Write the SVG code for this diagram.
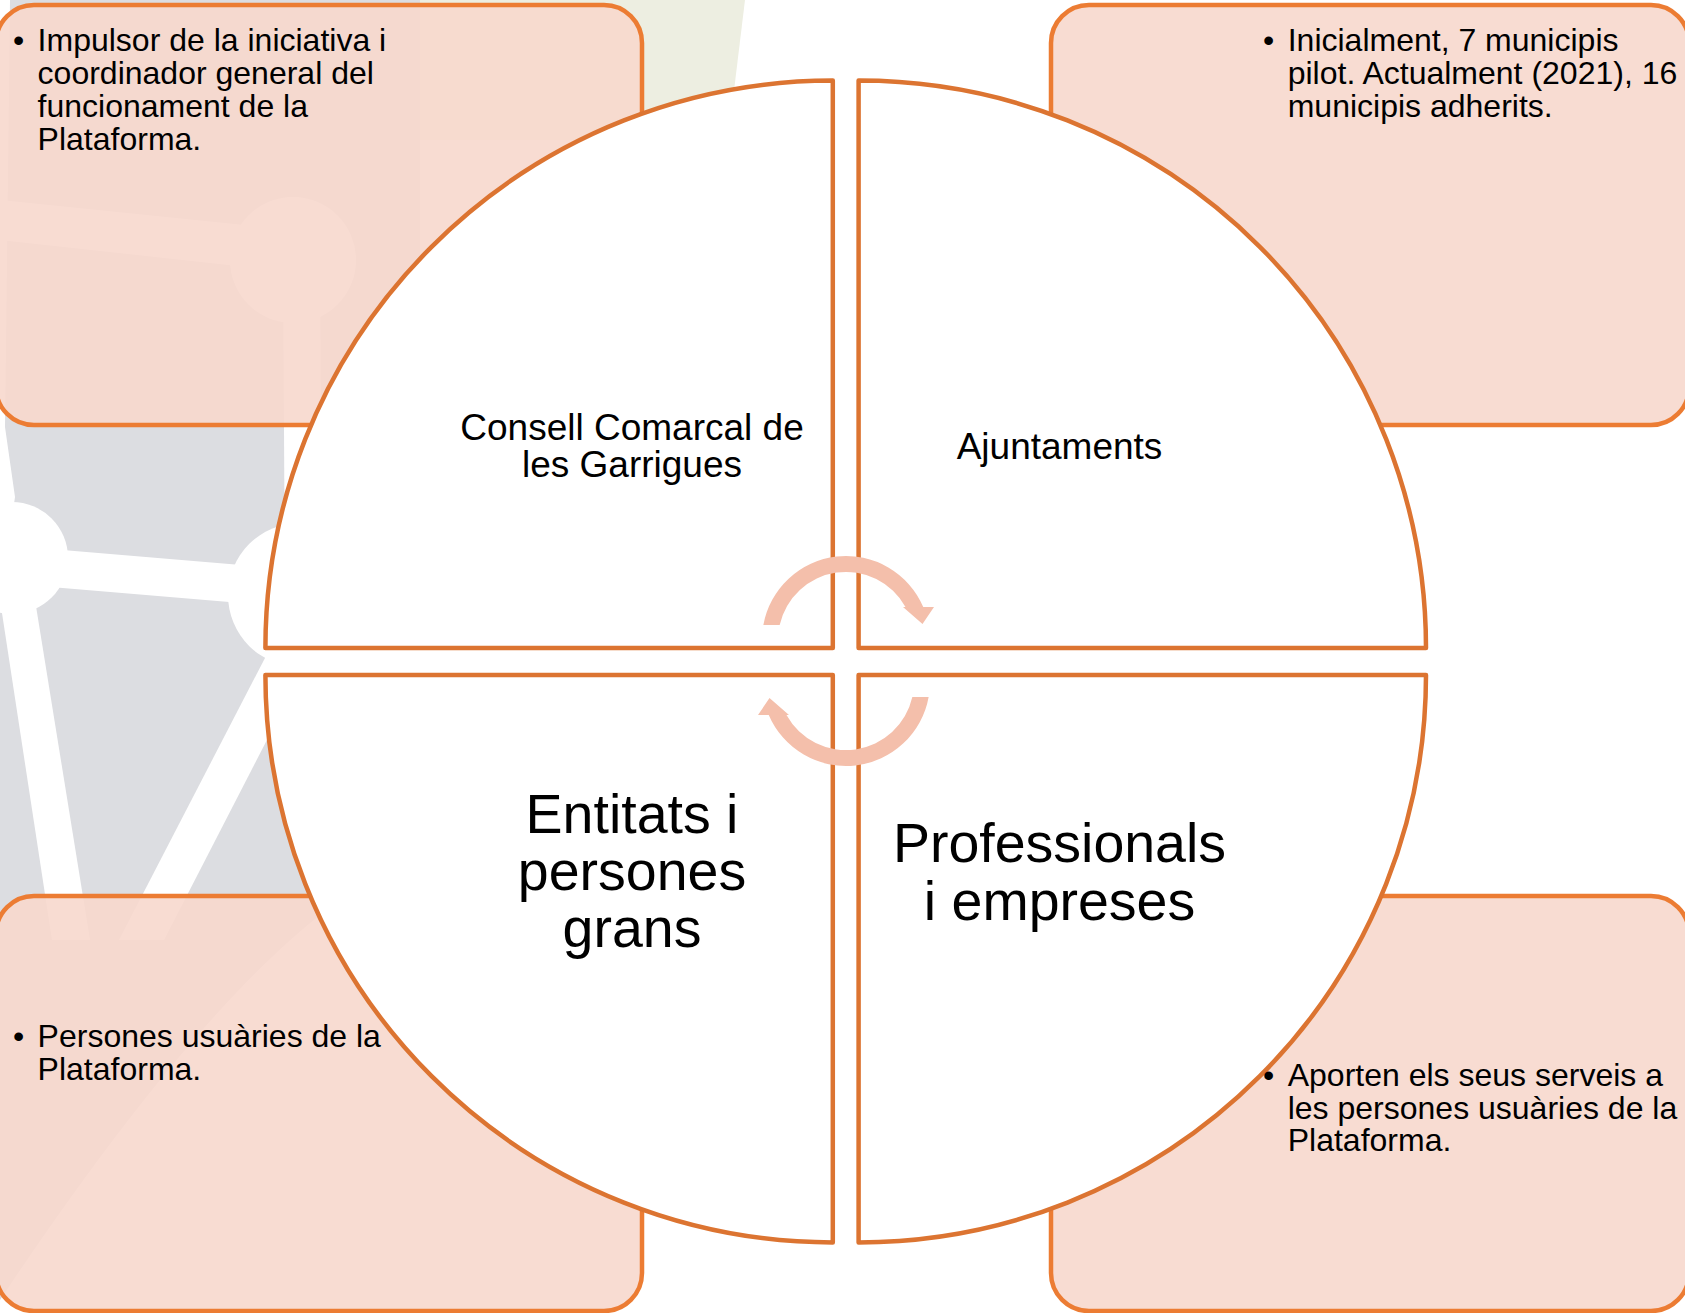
<svg xmlns="http://www.w3.org/2000/svg" width="1685" height="1313" viewBox="0 0 1685 1313">
  <defs>
    <style>
      .box { fill: #F7D8CD; fill-opacity: 0.9; stroke: #EC7C33; stroke-width: 4.5; }
      .quad { fill: #FFFFFF; stroke: #DC7431; stroke-width: 4.5; stroke-linejoin: round; }
      .arrow { fill: #F4BFAB; }
      .bg-gray { fill: #DCDDE1; }
      .bg-beige { fill: #EDEEE1; }
      .bg-white { fill: #FFFFFF; }
      .t { font-family: "Liberation Sans", Arial, sans-serif; fill: #000000; }
      .small { font-size: 32px; }
      .mid { font-size: 37px; text-anchor: middle; }
      .big { font-size: 55.5px; text-anchor: middle; }
    </style>
  </defs>
  <rect x="0" y="0" width="1685" height="1313" fill="#FFFFFF"/>

  <g id="background">
    <path class="bg-beige" d="M 420 0 L 745 0 L 728 140 L 420 140 Z"/>
    <path class="bg-gray" d="M 10 0 L 420 0 L 420 425 L 320 425 L 300 600 L 300 700 L 340 900 Q 200 1000 0 1300 L 0 600 L 15 497 L 5 427 Z"/>
    <circle class="bg-white" cx="293" cy="260" r="63"/>
    <polygon class="bg-white" points="0,200 293,230 293,272 0,240"/>
    <polygon class="bg-white" points="283,260 320,260 322,600 285,600"/>
    <circle class="bg-white" cx="300" cy="595" r="72"/>
    <polygon class="bg-white" points="15,546 300,570 300,608 15,584"/>
    <circle class="bg-white" cx="12" cy="558" r="56"/>
    <polygon class="bg-white" points="0,600 35,600 90,940 52,940"/>
    <polygon class="bg-white" points="295,600 339,600 164,940 119,940"/>
  </g>

  <g id="box-tl"><rect class="box" x="-4" y="5" width="646" height="420" rx="38"/></g>
  <g id="box-tr"><rect class="box" x="1051" y="5" width="638" height="420" rx="38"/></g>
  <g id="box-bl"><rect class="box" x="-4" y="896" width="646" height="415" rx="38"/></g>
  <g id="box-br"><rect class="box" x="1051" y="896" width="638" height="415" rx="38"/></g>

  <g id="quad-tl"><path class="quad" d="M 832.8 80.6 L 832.8 648 L 265.4 648 A 567.4 567.4 0 0 1 832.8 80.6 Z"/></g>
  <g id="quad-tr"><path class="quad" d="M 858.6 80.6 A 567.4 567.4 0 0 1 1426 648 L 858.6 648 Z"/></g>
  <g id="quad-bl"><path class="quad" d="M 832.8 675 L 832.8 1242.4 A 567.4 567.4 0 0 1 265.4 675 Z"/></g>
  <g id="quad-br"><path class="quad" d="M 858.6 675 L 1426 675 A 567.4 567.4 0 0 1 858.6 1242.4 Z"/></g>

  <g id="connectors">
    <path id="arrow-top" class="arrow" d="M 763.35 625 A 84 84 0 0 1 923.25 607 L 934 607 L 922.5 624 L 903 607 L 905.5 607 A 68 68 0 0 0 779.67 625 Z"/>
    <path id="arrow-bottom" class="arrow" transform="rotate(180 846 661)" d="M 763.35 625 A 84 84 0 0 1 923.25 607 L 934 607 L 922.5 624 L 903 607 L 905.5 607 A 68 68 0 0 0 779.67 625 Z"/>
  </g>

  <g id="text-tl">
    <text class="t small" x="13" y="50.5">•</text>
    <text class="t small" x="37.6" y="50.5">Impulsor de la iniciativa i</text>
    <text class="t small" x="37.6" y="83.8">coordinador general del</text>
    <text class="t small" x="37.6" y="117">funcionament de la</text>
    <text class="t small" x="37.6" y="150.3">Plataforma.</text>
  </g>
  <g id="text-tr">
    <text class="t small" x="1263" y="50.5">•</text>
    <text class="t small" x="1287.7" y="50.5">Inicialment, 7 municipis</text>
    <text class="t small" x="1287.7" y="83.8">pilot. Actualment (2021), 16</text>
    <text class="t small" x="1287.7" y="117">municipis adherits.</text>
  </g>
  <g id="text-bl">
    <text class="t small" x="13" y="1046.7">•</text>
    <text class="t small" x="37.6" y="1046.7">Persones usuàries de la</text>
    <text class="t small" x="37.6" y="1080">Plataforma.</text>
  </g>
  <g id="text-br">
    <text class="t small" x="1263" y="1086">•</text>
    <text class="t small" x="1287.7" y="1086">Aporten els seus serveis a</text>
    <text class="t small" x="1287.7" y="1118.5">les persones usuàries de la</text>
    <text class="t small" x="1287.7" y="1151">Plataforma.</text>
  </g>

  <g id="label-tl">
    <text class="t mid" x="632" y="440">Consell Comarcal de</text>
    <text class="t mid" x="632" y="477">les Garrigues</text>
  </g>
  <g id="label-tr">
    <text class="t mid" x="1059.5" y="458.5">Ajuntaments</text>
  </g>
  <g id="label-bl">
    <text class="t big" x="632" y="833">Entitats i</text>
    <text class="t big" x="632" y="890">persones</text>
    <text class="t big" x="632" y="947">grans</text>
  </g>
  <g id="label-br">
    <text class="t big" x="1059.5" y="862">Professionals</text>
    <text class="t big" x="1059.5" y="919.5">i empreses</text>
  </g>
</svg>
